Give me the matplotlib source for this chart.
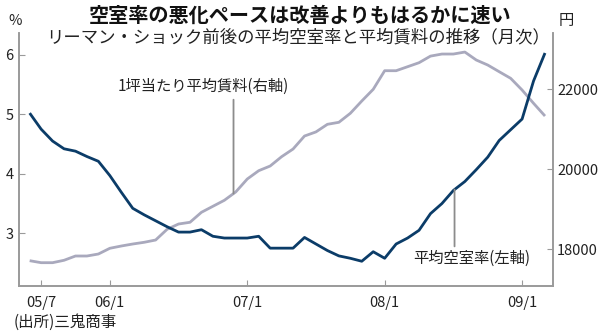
import matplotlib
matplotlib.use("Agg")
import matplotlib.pyplot as plt
import numpy as np

plt.rcParams['font.family'] = ['Noto Sans CJK JP', 'DejaVu Sans']

# monthly, 2005/6 .. 2009/3
months = [f"{y:02d}/{m}" for y in range(5, 10) for m in range(1, 13)][5:51]
vacancy = [5.02, 4.75, 4.55, 4.42, 4.38, 4.29, 4.21, 3.97, 3.69, 3.42,
           3.31, 3.21, 3.11, 3.02, 3.02, 3.06, 2.95, 2.92, 2.92, 2.92,
           2.95, 2.75, 2.75, 2.75, 2.93, 2.82, 2.71, 2.62, 2.58, 2.53,
           2.69, 2.58, 2.82, 2.92, 3.05, 3.33, 3.50, 3.72, 3.87, 4.07,
           4.28, 4.56, 4.74, 4.92, 5.56, 6.03]
rent = [17715, 17665, 17665, 17725, 17832, 17832, 17882, 18025, 18082, 18132,
        18175, 18232, 18500, 18632, 18675, 18925, 19075, 19225, 19435, 19757,
        19965, 20082, 20315, 20507, 20832, 20935, 21125, 21175, 21400, 21707,
        22000, 22465, 22465, 22565, 22665, 22830, 22882, 22882, 22932, 22732,
        22607, 22440, 22275, 21982, 21650, 21332]
tick_labels = ["05/7", "06/1", "07/1", "08/1", "09/1"]

navy = "#0b3c68"
lilac = "#a9a9bd"
spine_c = "#9a9a9a"
text_c = "#222222"

x = np.arange(len(months))
tick_pos = [months.index(t) for t in tick_labels]

fig = plt.figure(figsize=(6, 3.36), dpi=100)
ax = fig.add_axes([0.0317, 0.1488, 0.89, 0.7530])
ax2 = ax.twinx()

ax2.plot(x, rent, color=lilac, lw=2.0, solid_capstyle='butt', zorder=2)
ax.plot(x, vacancy, color=navy, lw=2.0, solid_capstyle='butt', zorder=3)
ax.set_zorder(ax2.get_zorder() + 1)
ax.patch.set_visible(False)

ax.set_xlim(-0.93, 45.7)
ax.set_ylim(2.114, 6.366)
ax2.set_ylim(17082, 23408)

ax.set_xticks(tick_pos)
ax.set_xticklabels(tick_labels)
ax.set_yticks([3, 4, 5, 6])
ax2.set_yticks([18000, 20000, 22000])

for a in (ax, ax2):
    a.spines['top'].set_visible(False)
    for s in ('left', 'right', 'bottom'):
        a.spines[s].set_color(spine_c)
        a.spines[s].set_linewidth(1.2)
ax.tick_params(axis='both', direction='in', length=4, width=0.8, color=spine_c,
               labelsize=10.5, labelcolor=text_c)
ax.tick_params(axis='y', pad=4)
ax.tick_params(axis='x', pad=7)
ax2.tick_params(axis='y', direction='in', length=4, width=0.8, color=spine_c,
                labelsize=10.5, labelcolor=text_c, pad=3)

# leader lines and labels
kr = 17.8
ax2.annotate('', xy=(kr, np.interp(kr, x, rent)), xytext=(kr, 21740),
             arrowprops=dict(arrowstyle='-', color='#8c8c8c', lw=1.3,
                             shrinkA=0, shrinkB=0))
ax2.text(15.2, 22080, "1坪当たり平均賃料(右軸)", ha='center', va='center',
         fontsize=11, color=text_c)

kv = 37.1
ax.annotate('', xy=(kv, np.interp(kv, x, vacancy)), xytext=(kv, 2.78),
            arrowprops=dict(arrowstyle='-', color='#8c8c8c', lw=1.3,
                            shrinkA=0, shrinkB=0))
ax.text(38.6, 2.58, "平均空室率(左軸)", ha='center', va='center',
        fontsize=11, color=text_c)

fig.text(0.5, 0.955, "空室率の悪化ペースは改善よりもはるかに速い", ha='center',
         va='center', fontsize=14.5, fontweight='bold', color='#111111')
fig.text(0.497, 0.888, "リーマン・ショック前後の平均空室率と平均賃料の推移（月次）",
         ha='center', va='center', fontsize=12.5, color=text_c)
fig.text(15 / 600, 1 - 21 / 336, "%", ha='center', va='center',
         fontsize=10.5, color=text_c)
fig.text(566 / 600, 1 - 21 / 336, "円", ha='center', va='center',
         fontsize=11, color=text_c)
fig.text(14 / 600, 1 - 322 / 336, "(出所)三鬼商事", ha='left', va='center',
         fontsize=11.2, color=text_c)

fig.savefig("out.png", dpi=100)
